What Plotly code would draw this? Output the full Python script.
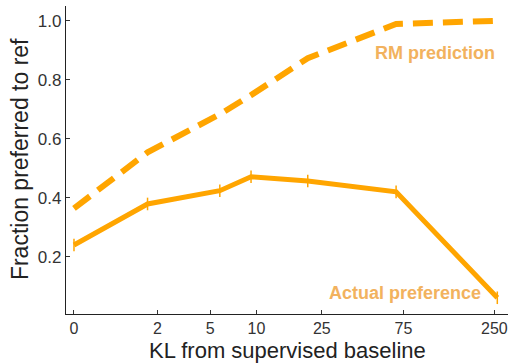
import numpy as np
import plotly.graph_objects as go

# KL from supervised baseline
kl = [0, 1.63, 5.8, 9.25, 20.6, 68, 260]
actual_pref = [0.240, 0.379, 0.424, 0.471, 0.457, 0.420, 0.061]
rm_pred = [0.364, 0.554, 0.683, 0.748, 0.873, 0.989, 1.0]
tick_kl = [0, 2, 5, 10, 25, 75, 250]
tick_labels = ["0", "2", "5", "10", "25", "75", "250"]
y_ticks = [0.2, 0.4, 0.6, 0.8, 1.0]
y_tick_labels = ["0.2", "0.4", "0.6", "0.8", "1.0"]

orange = "#FFA500"
label_orange = "#F2B25E"
FONT = "Liberation Sans, Arial, Helvetica"

x = np.log1p(kl)

fig = go.Figure()
fig.add_trace(go.Scatter(
    x=x, y=rm_pred, mode="lines",
    line=dict(color=orange, width=6, dash="20px,10px"),
    showlegend=False, hoverinfo="skip",
))
fig.add_trace(go.Scatter(
    x=x, y=actual_pref, mode="lines+markers",
    line=dict(color=orange, width=5),
    marker=dict(symbol="line-ns-open", size=9, line=dict(color=orange, width=1.5)),
    showlegend=False, hoverinfo="skip",
))

fig.add_annotation(x=4.746, y=0.89, text="<b>RM prediction</b>", showarrow=False,
                   xanchor="center", yanchor="middle",
                   font=dict(size=18, color=label_orange, family=FONT))
fig.add_annotation(x=4.351, y=0.077, text="<b>Actual preference</b>", showarrow=False,
                   xanchor="center", yanchor="middle",
                   font=dict(size=18, color=label_orange, family=FONT))

# axis titles
fig.add_annotation(xref="paper", yref="paper", x=0.5, y=-0.1169,
                   text="KL from supervised baseline", showarrow=False,
                   xanchor="center", yanchor="middle", borderpad=0,
                   font=dict(size=22, color="#222", family=FONT))
fig.add_annotation(xref="paper", yref="paper", x=-0.104, y=0.503,
                   text="Fraction preferred to ref", showarrow=False, textangle=-90,
                   xanchor="center", yanchor="middle",
                   font=dict(size=23, color="#222", family=FONT))

fig.update_layout(
    width=510, height=363,
    margin=dict(l=66, r=2, t=6, b=49),
    plot_bgcolor="white", paper_bgcolor="white",
    font=dict(family=FONT, color="#222"),
)
fig.update_xaxes(
    range=[-0.105, 5.705], automargin=False,
    tickvals=np.log1p(tick_kl), ticktext=tick_labels,
    ticks="inside", ticklen=4, tickcolor="#333",
    showline=True, linecolor="#222", linewidth=1.2,
    showgrid=False, zeroline=False,
    tickfont=dict(size=16, color="#333"),
)
fig.update_yaxes(
    range=[0.006, 1.05], automargin=False,
    tickvals=y_ticks, ticktext=y_tick_labels,
    ticks="inside", ticklen=4, tickcolor="#333",
    showline=True, linecolor="#222", linewidth=1.2,
    showgrid=False, zeroline=False,
    tickfont=dict(size=17, color="#333"),
)

fig.write_html("out.html",
               config={"displayModeBar": False},
               post_script="document.body.style.margin='0';document.body.style.overflow='hidden';")
